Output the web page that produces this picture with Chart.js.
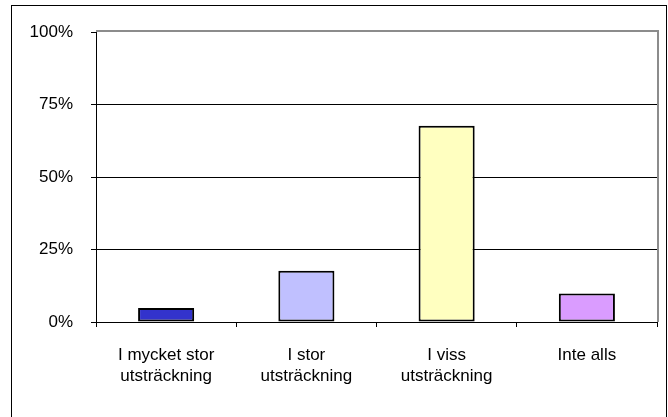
<!DOCTYPE html>
<html>
<head>
<meta charset="utf-8">
<script src="https://cdn.jsdelivr.net/npm/chart.js@4"></script>
<style>
  html, body { margin: 0; padding: 0; background: #fff; }
  #wrap { width: 668px; height: 417px; }
</style>
</head>
<body>
<div id="wrap"><canvas id="chart" width="668" height="417"></canvas></div>
<script>
// data
const categories = [
  ['I mycket stor', 'utsträckning'],
  ['I stor', 'utsträckning'],
  ['I viss', 'utsträckning'],
  'Inte alls',
];
const shares = [4.8, 17.7, 67.7, 9.8];
const barColors = ['#3333CC', '#C0C0FF', '#FFFFC0', '#DA9CFF'];
const yTicks = [0, 25, 50, 75, 100];

// gray plot frame (top and right) plus outer black box
const framePlugin = {
  id: 'frame',
  beforeDatasetsDraw(chart) {
    const { ctx, chartArea } = chart;
    ctx.save();
    ctx.strokeStyle = '#8c8c8c';
    ctx.lineWidth = 2;
    ctx.beginPath();
    ctx.moveTo(chartArea.left, chartArea.top - 1);
    ctx.lineTo(chartArea.right + 1, chartArea.top - 1);
    ctx.lineTo(chartArea.right + 1, chartArea.bottom);
    ctx.stroke();
    ctx.restore();
  },
  afterDraw(chart) {
    const ctx = chart.ctx;
    ctx.save();
    ctx.strokeStyle = '#000';
    ctx.lineWidth = 1;
    ctx.strokeRect(11.5, 5.5, 655, 430);
    ctx.restore();
  },
};

const font = { family: '"Liberation Sans", Arial, sans-serif', size: 17, lineHeight: 1.24 };

new Chart(document.getElementById('chart').getContext('2d'), {
  type: 'bar',
  data: {
    labels: categories,
    datasets: [{
      data: shares,
      backgroundColor: barColors,
      borderColor: '#000',
      borderWidth: 2,
      borderSkipped: false,
      barPercentage: 0.4,
      categoryPercentage: 1,
    }],
  },
  options: {
    responsive: false,
    animation: false,
    layout: { padding: { top: 32, right: 11, left: 0, bottom: 0 } },
    plugins: {
      legend: { display: false },
      tooltip: { enabled: false },
    },
    scales: {
      x: {
        grid: {
          offset: true,
          drawOnChartArea: false,
          drawTicks: true,
          tickLength: 5,
          color: '#000',
        },
        border: { color: '#000', width: 1 },
        ticks: { color: '#000', font: font, padding: 18, maxRotation: 0, autoSkip: false },
        afterFit(scale) { scale.height = 95; },
      },
      y: {
        min: 0,
        max: 100,
        afterBuildTicks(scale) { scale.ticks = yTicks.map(v => ({ value: v })); },
        grid: {
          color: ctx => (ctx.tick && ctx.tick.value === 100 ? 'rgba(0,0,0,0)' : '#000'),
          tickColor: '#000',
          tickLength: 5,
        },
        border: { color: '#000', width: 1 },
        ticks: {
          color: '#000',
          font: font,
          padding: 18,
          callback: v => v + '%',
        },
        afterFit(scale) { scale.width = 96; },
      },
    },
  },
  plugins: [framePlugin],
});
</script>
</body>
</html>
